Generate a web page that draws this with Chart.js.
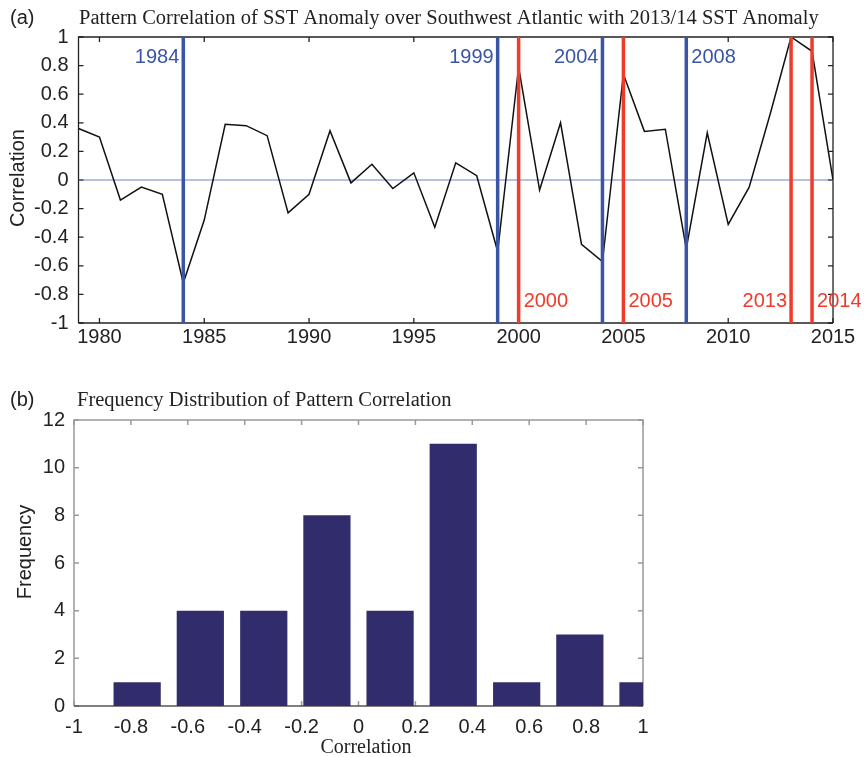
<!DOCTYPE html>
<html>
<head>
<meta charset="utf-8">
<script src="https://cdn.jsdelivr.net/npm/chart.js@4.4.1/dist/chart.umd.min.js"></script>
<style>
  body { margin: 0; background: #fff; }
  #wrap { position: relative; width: 865px; height: 757px; }
  canvas { position: absolute; left: 0; }
  #topChart { top: 0; }
  #histChart { top: 370px; }
</style>
</head>
<body>
<div id="wrap">
  <canvas id="topChart" width="865" height="370"></canvas>
  <canvas id="histChart" width="865" height="387"></canvas>
</div>
<script>
/* (a) 패턴 상관 시계열 */
const years = [1979, 1980, 1981, 1982, 1983, 1984, 1985, 1986, 1987, 1988,
               1989, 1990, 1991, 1992, 1993, 1994, 1995, 1996, 1997, 1998,
               1999, 2000, 2001, 2002, 2003, 2004, 2005, 2006, 2007, 2008,
               2009, 2010, 2011, 2012, 2013, 2014, 2015];
const corr = [0.36, 0.30, -0.14, -0.05, -0.10, -0.72, -0.28, 0.39, 0.38, 0.31,
              -0.23, -0.10, 0.345, -0.02, 0.11, -0.06, 0.05, -0.33, 0.12, 0.03,
              -0.50, 0.79, -0.07, 0.40, -0.45, -0.57, 0.74, 0.34, 0.355, -0.48,
              0.33, -0.31, -0.05, 0.46, 1.00, 0.90, 0.00];
const blueYears = [1984, 1999, 2004, 2008];
const redYears = [2000, 2005, 2013, 2014];
const xTickYears = [1980, 1985, 1990, 1995, 2000, 2005, 2010, 2015];
const corrTicks = [-1, -0.8, -0.6, -0.4, -0.2, 0, 0.2, 0.4, 0.6, 0.8, 1];

/* (b) 빈도 분포 */
const binCenters = [-0.778, -0.556, -0.333, -0.111, 0.111, 0.333, 0.556, 0.778, 1.0];
const binCounts = [1, 4, 4, 8, 4, 11, 1, 3, 1];
const histXTicks = [-1, -0.8, -0.6, -0.4, -0.2, 0, 0.2, 0.4, 0.6, 0.8, 1];
const histYTicks = [0, 2, 4, 6, 8, 10, 12];

const SANS = '"Liberation Sans", Arial, sans-serif';
const SERIF = '"Liberation Serif", "Times New Roman", serif';
const BLUE = '#3a55a6';
const RED = '#ee3b2a';

const fmt = v => String(+v.toFixed(1));

/* 박스 + 안쪽 눈금 */
const boxPlugin = {
  id: 'box',
  beforeDatasetsDraw(chart, args, opts) {
    const { ctx, chartArea: a, scales } = chart;
    const tl = 5;
    ctx.save();
    ctx.lineWidth = opts.width;
    ctx.strokeStyle = opts.color;
    ctx.beginPath();
    scales.x.ticks.forEach(t => {
      const px = scales.x.getPixelForValue(t.value);
      ctx.moveTo(px, a.bottom); ctx.lineTo(px, a.bottom - tl);
      ctx.moveTo(px, a.top); ctx.lineTo(px, a.top + tl);
    });
    scales.y.ticks.forEach(t => {
      const py = scales.y.getPixelForValue(t.value);
      ctx.moveTo(a.left, py); ctx.lineTo(a.left + tl, py);
      ctx.moveTo(a.right, py); ctx.lineTo(a.right - tl, py);
    });
    ctx.stroke();
    ctx.beginPath();
    ctx.moveTo(a.left, a.bottom); ctx.lineTo(a.left, a.top);
    ctx.lineTo(a.right, a.top); ctx.lineTo(a.right, a.bottom);
    ctx.stroke();
    ctx.strokeStyle = opts.bottomColor || opts.color;
    ctx.beginPath();
    ctx.moveTo(a.left, a.bottom); ctx.lineTo(a.right, a.bottom);
    ctx.stroke();
    ctx.restore();
  }
};

/* 제목, 축 이름 */
const textPlugin = {
  id: 'texts',
  afterDraw(chart, args, opts) {
    const ctx = chart.ctx;
    opts.items.forEach(it => {
      ctx.save();
      ctx.font = it.font;
      ctx.fillStyle = it.color || '#222';
      ctx.textAlign = it.align || 'left';
      ctx.textBaseline = 'middle';
      ctx.translate(it.x, it.y);
      if (it.rotate) ctx.rotate(it.rotate);
      ctx.fillText(it.text, 0, 0);
      ctx.restore();
    });
  }
};

/* 세로선 연도 표시 */
const markerLabelPlugin = {
  id: 'markerLabels',
  afterDatasetsDraw(chart) {
    const { ctx, scales } = chart;
    const sideLeft = { 1984: true, 1999: true, 2004: true, 2013: true };
    ctx.save();
    ctx.font = '20px ' + SANS;
    ctx.textBaseline = 'middle';
    const put = (yr, color, v) => {
      const px = scales.x.getPixelForValue(yr);
      const py = scales.y.getPixelForValue(v);
      ctx.fillStyle = color;
      if (sideLeft[yr]) { ctx.textAlign = 'right'; ctx.fillText(String(yr), px - 4, py); }
      else { ctx.textAlign = 'left'; ctx.fillText(String(yr), px + 5, py); }
    };
    blueYears.forEach(yr => put(yr, BLUE, 0.86));
    redYears.forEach(yr => put(yr, RED, -0.85));
    ctx.restore();
  }
};

const tickFont = { family: SANS, size: 20 };

const vLine = (yr, color) => ({
  data: [{ x: yr, y: -1 }, { x: yr, y: 1 }],
  borderColor: color,
  borderWidth: 3.5,
  order: 0
});

new Chart(document.getElementById('topChart'), {
  type: 'line',
  data: {
    datasets: [
      ...blueYears.map(yr => vLine(yr, BLUE)),
      ...redYears.map(yr => vLine(yr, RED)),
      {
        data: years.map((yr, i) => ({ x: yr, y: corr[i] })),
        borderColor: '#111',
        borderWidth: 1.5,
        order: 1
      },
      {
        data: [{ x: years[0], y: 0 }, { x: years[years.length - 1], y: 0 }],
        borderColor: '#6f82c8',
        borderWidth: 1,
        order: 2
      }
    ]
  },
  options: {
    responsive: false,
    animation: false,
    devicePixelRatio: 1,
    layout: { padding: { top: 37, right: 32, left: 0, bottom: 0 } },
    elements: { point: { radius: 0 }, line: { tension: 0 } },
    plugins: {
      legend: { display: false },
      tooltip: { enabled: false },
      box: { color: '#222', width: 1.3 },
      texts: {
        items: [
          { text: '(a)', x: 10, y: 18, font: '20px ' + SANS },
          { text: 'Pattern Correlation of SST Anomaly over Southwest Atlantic with 2013/14 SST Anomaly',
            x: 79, y: 19, font: '20.5px ' + SERIF },
          { text: 'Correlation', x: 18, y: 178, font: '20px ' + SANS, align: 'center', rotate: -Math.PI / 2 }
        ]
      }
    },
    scales: {
      x: {
        type: 'linear',
        min: 1979,
        max: 2015,
        afterBuildTicks: s => { s.ticks = xTickYears.map(v => ({ value: v })); },
        afterFit: s => { s.height = 47; },
        grid: { display: false, drawTicks: false },
        border: { display: false },
        ticks: { font: tickFont, color: '#222', padding: 2, maxRotation: 0, autoSkip: false,
                 callback: v => String(v) }
      },
      y: {
        min: -1,
        max: 1,
        afterBuildTicks: s => { s.ticks = corrTicks.map(v => ({ value: v })); },
        afterFit: s => { s.width = 78.5; },
        grid: { display: false, drawTicks: false },
        border: { display: false },
        ticks: { font: tickFont, color: '#222', padding: 10, callback: fmt }
      }
    }
  },
  plugins: [boxPlugin, markerLabelPlugin, textPlugin]
});

new Chart(document.getElementById('histChart'), {
  type: 'bar',
  data: {
    datasets: [{
      data: binCenters.map((c, i) => ({ x: c, y: binCounts[i] })),
      backgroundColor: '#312d6d',
      borderWidth: 0,
      barPercentage: 0.83,
      categoryPercentage: 1
    }]
  },
  options: {
    responsive: false,
    animation: false,
    devicePixelRatio: 1,
    layout: { padding: { top: 50, right: 222, left: 0, bottom: 0 } },
    plugins: {
      legend: { display: false },
      tooltip: { enabled: false },
      box: { color: '#999', bottomColor: '#555', width: 1.5 },
      texts: {
        items: [
          { text: '(b)', x: 10, y: 30, font: '20px ' + SANS },
          { text: 'Frequency Distribution of Pattern Correlation', x: 77, y: 31, font: '20.5px ' + SERIF },
          { text: 'Frequency', x: 25, y: 182, font: '20px ' + SANS, align: 'center', rotate: -Math.PI / 2 },
          { text: 'Correlation', x: 366, y: 378, font: '20px ' + SERIF, align: 'center' }
        ]
      }
    },
    scales: {
      x: {
        type: 'linear',
        offset: false,
        min: -1,
        max: 1,
        afterBuildTicks: s => { s.ticks = histXTicks.map(v => ({ value: v })); },
        afterFit: s => { s.height = 51; },
        grid: { display: false, drawTicks: false },
        border: { display: false },
        ticks: { font: tickFont, color: '#222', padding: 9, maxRotation: 0, autoSkip: false, callback: fmt }
      },
      y: {
        min: 0,
        max: 12,
        afterBuildTicks: s => { s.ticks = histYTicks.map(v => ({ value: v })); },
        afterFit: s => { s.width = 74; },
        grid: { display: false, drawTicks: false },
        border: { display: false },
        ticks: { font: tickFont, color: '#222', padding: 9, callback: v => String(v) }
      }
    }
  },
  plugins: [boxPlugin, textPlugin]
});
</script>
</body>
</html>
